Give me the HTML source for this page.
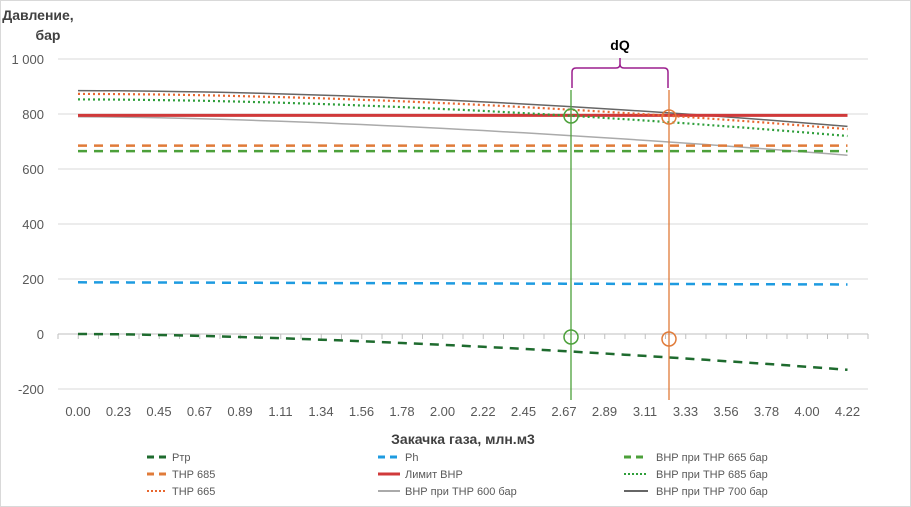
<!DOCTYPE html>
<html><head><meta charset="utf-8"><style>
html,body{margin:0;padding:0;background:#fff}
svg{display:block;font-family:"Liberation Sans",sans-serif}
</style></head><body>
<svg id="s" width="911" height="507" viewBox="0 0 911 507" xmlns="http://www.w3.org/2000/svg">
<rect x="0.5" y="0.5" width="910" height="506" fill="#fff" stroke="#d9d9d9"/>
<text x="38" y="20" font-size="14" font-weight="bold" fill="#404040" text-anchor="middle">Давление,</text>
<text x="48" y="40" font-size="14" font-weight="bold" fill="#404040" text-anchor="middle">бар</text>
<g id="grid" stroke="#d9d9d9" stroke-width="1"></g>
<g id="yl" font-size="13" fill="#595959" text-anchor="end"></g>
<g id="xl" font-size="13" fill="#595959" text-anchor="middle"></g>
<g id="series" fill="none"></g>
<line x1="571" y1="90" x2="571" y2="400" stroke="#4ca03a" stroke-width="1.3"/>
<line x1="669" y1="90" x2="669" y2="400" stroke="#e07b39" stroke-width="1.3"/>
<circle cx="571" cy="116" r="7" fill="none" stroke="#4ca03a" stroke-width="1.5"/>
<circle cx="669" cy="117" r="7" fill="none" stroke="#e07b39" stroke-width="1.5"/>
<circle cx="571" cy="337" r="7" fill="none" stroke="#4ca03a" stroke-width="1.5"/>
<circle cx="669" cy="339" r="7" fill="none" stroke="#e07b39" stroke-width="1.5"/>
<path d="M572,88 L572,72 Q572,68 576,68 L616,68 Q620,68 620,64 L620,58 L620,64 Q620,68 624,68 L664,68 Q668,68 668,72 L668,88" fill="none" stroke="#9b1f8e" stroke-width="1.5"/>
<text x="620" y="50" font-size="14" font-weight="bold" fill="#000" text-anchor="middle">dQ</text>
<text x="463" y="444" font-size="14" font-weight="bold" fill="#404040" text-anchor="middle">Закачка газа, млн.м3</text>
<g font-size="11" fill="#595959">
<line x1="147" y1="457" x2="166" y2="457" stroke="#1e6b2e" stroke-width="3" stroke-dasharray="7,5"/><text x="172" y="461">Ртр</text>
<line x1="378" y1="457" x2="400" y2="457" stroke="#1e9be0" stroke-width="3" stroke-dasharray="7,5"/><text x="405" y="461">Ph</text>
<line x1="624" y1="457" x2="648" y2="457" stroke="#4ca03a" stroke-width="3" stroke-dasharray="7,5"/><text x="656" y="461">ВНР при ТНР 665 бар</text>
<line x1="147" y1="474" x2="166" y2="474" stroke="#e07b39" stroke-width="3" stroke-dasharray="7,5"/><text x="172" y="478">ТНР 685</text>
<line x1="378" y1="474" x2="400" y2="474" stroke="#d0393a" stroke-width="3"/><text x="405" y="478">Лимит ВНР</text>
<line x1="624" y1="474" x2="648" y2="474" stroke="#2e9e3a" stroke-width="2" stroke-dasharray="2,2"/><text x="656" y="478">ВНР при ТНР 685 бар</text>
<line x1="147" y1="491" x2="166" y2="491" stroke="#e8662e" stroke-width="2" stroke-dasharray="2,2"/><text x="172" y="495">ТНР 665</text>
<line x1="378" y1="491" x2="400" y2="491" stroke="#aaaaaa" stroke-width="2"/><text x="405" y="495">ВНР при ТНР 600 бар</text>
<line x1="624" y1="491" x2="648" y2="491" stroke="#666" stroke-width="2"/><text x="656" y="495">ВНР при ТНР 700 бар</text>
</g>
</svg>
<script>
var NS="http://www.w3.org/2000/svg";
function el(p,t,a,txt){var e=document.createElementNS(NS,t);for(var k in a)e.setAttribute(k,a[k]);if(txt!=null)e.textContent=txt;document.getElementById(p).appendChild(e);return e;}
function Y(v){return 334-v*0.275;}
[1000,800,600,400,200,-200].forEach(function(v){el("grid","line",{x1:58,x2:868,y1:Y(v),y2:Y(v)});});
[1000,800,600,400,200,0,-200].forEach(function(v){el("yl","text",{x:44,y:Y(v)+5},v==1000?"1 000":String(v));});
el("grid","line",{x1:58,x2:868,y1:334,y2:334,stroke:"#bfbfbf"});
for(var i=0;i<=40;i++){var x=58+i*20.25;el("grid","line",{x1:x,x2:x,y1:334,y2:339,stroke:"#bfbfbf"});}
var labs=["0.00","0.23","0.45","0.67","0.89","1.11","1.34","1.56","1.78","2.00","2.22","2.45","2.67","2.89","3.11","3.33","3.56","3.78","4.00","4.22"];
labs.forEach(function(l,i){el("xl","text",{x:78+i*40.5,y:416},l);});
function line(a,b,p,col,w,dash){var pts=[];for(var k=0;k<=38;k++){var t=k/38;var v=a+(b-a)*Math.pow(t,p);pts.push((78+k*20.25).toFixed(1)+","+Y(v).toFixed(1));}
var at={points:pts.join(" "),stroke:col,"stroke-width":w};if(dash)at["stroke-dasharray"]=dash;el("series","polyline",at);}
line(790,650,1.6,"#aaaaaa",1.5);
line(885,755,1.8,"#666666",1.5);
line(665,665,1,"#4ca03a",2.5,"9,7");
line(685,685,1,"#e07b39",2.5,"9,7");
line(795,795,1,"#d0393a",3);
line(853,720,1.8,"#2e9e3a",2.2,"2,3");
line(873,745,1.8,"#e8662e",2.2,"2,3");
line(188,180,1,"#1e9be0",2.5,"9,7");
line(0,-130,1.6,"#1e6b2e",2.5,"9,7");
</script>
</body></html>
